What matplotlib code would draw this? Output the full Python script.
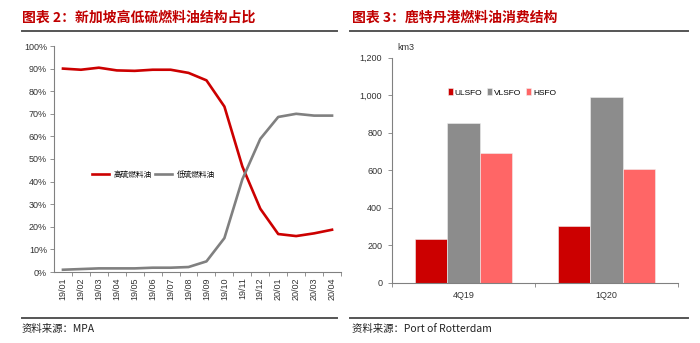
import matplotlib.pyplot as plt
from matplotlib.lines import Line2D
from matplotlib.ticker import FixedLocator, FuncFormatter

plt.rcParams["font.family"] = ["Liberation Sans", "Noto Sans CJK SC", "DejaVu Sans"]

# left chart: Singapore high/low sulphur bunker share
months = ["19/01", "19/02", "19/03", "19/04", "19/05", "19/06", "19/07", "19/08",
          "19/09", "19/10", "19/11", "19/12", "20/01", "20/02", "20/03", "20/04"]
hsfo_share = [90.0, 89.5, 90.4, 89.2, 89.0, 89.5, 89.5, 88.1,
              84.8, 73.2, 46.7, 28.0, 16.8, 15.9, 17.1, 18.7]
lsfo_share = [1.0, 1.3, 1.6, 1.6, 1.6, 1.9, 1.9, 2.2,
              4.7, 15.0, 41.0, 58.9, 68.6, 70.0, 69.2, 69.2]

# right chart: Rotterdam bunker sales
quarters = ["4Q19", "1Q20"]
ulsfo = [233, 305]
vlsfo = [854, 991]
hsfo = [691, 609]

W, H = 700, 343
RED = "#CC0000"
GREY = "#808080"
TITLE_RED = "#C00000"
CJK = ["Noto Sans CJK SC", "DejaVu Sans"]


def frac(x0, y_top, x1, y_bot):
    return [x0 / W, (H - y_bot) / H, (x1 - x0) / W, (y_bot - y_top) / H]


def style_axes(ax):
    for s in ("top", "right"):
        ax.spines[s].set_visible(False)
    for s in ("left", "bottom"):
        ax.spines[s].set_color("#808080")
        ax.spines[s].set_linewidth(0.8)
    ax.tick_params(axis="y", labelsize=6.5, length=3, width=0.6,
                   color="#808080", labelcolor="#333333", pad=2)


fig = plt.figure(figsize=(7, 3.43), dpi=100)

# titles, rules and sources
fig.text(22 / W, 1 - 18 / H, "图表 2：新加坡高低硫燃料油结构占比", color=TITLE_RED,
         fontsize=10, fontweight="bold", family=CJK, va="center", ha="left")
fig.text(352 / W, 1 - 18 / H, "图表 3：鹿特丹港燃料油消费结构", color=TITLE_RED,
         fontsize=10, fontweight="bold", family=CJK, va="center", ha="left")
for x0, x1 in ((22, 337), (350, 688)):
    fig.add_artist(Line2D([x0 / W, x1 / W], [1 - 31 / H] * 2, color="#555555", lw=1.4))
    fig.add_artist(Line2D([x0 / W, x1 / W], [1 - 318 / H] * 2, color="#555555", lw=1.4))
fig.text(22 / W, 1 - 329 / H, "资料来源：MPA", fontsize=7.5, family=CJK,
         color="#222222", va="center", ha="left")
fig.text(352 / W, 1 - 329 / H, "资料来源：Port of Rotterdam", fontsize=7.5, family=CJK,
         color="#222222", va="center", ha="left")

# left line chart
ax1 = fig.add_axes(frac(54, 46, 341, 272))
style_axes(ax1)
x = list(range(len(months)))
ax1.plot(x, hsfo_share, color=RED, lw=1.9, label="高硫燃料油")
ax1.plot(x, lsfo_share, color=GREY, lw=1.9, label="低硫燃料油")
ax1.set_xlim(-0.5, len(months) - 0.5)
ax1.set_ylim(0, 100)
ax1.set_yticks(range(0, 101, 10))
ax1.yaxis.set_major_formatter(FuncFormatter(lambda v, _: f"{v:.0f}%"))
ax1.set_xticks(x)
ax1.set_xticklabels(months, rotation=90, fontsize=6.5, color="#333333")
ax1.xaxis.set_minor_locator(FixedLocator([i + 0.5 for i in x]))
ax1.tick_params(axis="x", which="major", length=0, pad=4)
ax1.tick_params(axis="x", which="minor", length=3, width=0.6, color="#808080")
ax1.legend(loc="center left", bbox_to_anchor=(0.11, 0.43), ncol=2,
           frameon=False, handlelength=2.2, handletextpad=0.6,
           columnspacing=0.4, prop={"family": CJK, "size": 5.5})

# right bar chart
ax2 = fig.add_axes(frac(392, 57.7, 678, 283))
style_axes(ax2)
bw = 0.224
xq = list(range(len(quarters)))
ax2.bar([i - bw for i in xq], ulsfo, bw, color="#CC0000", edgecolor="#f0f0f0", lw=0.4, label="ULSFO")
ax2.bar(xq, vlsfo, bw, color="#8C8C8C", edgecolor="#f0f0f0", lw=0.4, label="VLSFO")
ax2.bar([i + bw for i in xq], hsfo, bw, color="#FF6666", edgecolor="#f0f0f0", lw=0.4, label="HSFO")
ax2.set_xlim(-0.5, len(quarters) - 0.5)
ax2.set_ylim(0, 1200)
ax2.set_yticks(range(0, 1201, 200))
ax2.yaxis.set_major_formatter(FuncFormatter(lambda v, _: f"{v:,.0f}"))
ax2.set_xticks(xq)
ax2.set_xticklabels(quarters, fontsize=6.5, color="#333333")
ax2.xaxis.set_minor_locator(FixedLocator([-0.5, 0.5, 1.5]))
ax2.tick_params(axis="x", which="major", length=0, pad=6)
ax2.tick_params(axis="x", which="minor", length=3, width=0.6, color="#808080")
ax2.tick_params(axis="y", pad=4)
ax2.text(397 / W, 1 - 48 / H, "km3", transform=fig.transFigure, fontsize=6.5,
         color="#333333", va="center", ha="left")
ax2.legend(loc="center left", bbox_to_anchor=(0.17, 0.845), ncol=3, frameon=False,
           fontsize=6, handlelength=0.6, handleheight=0.9, handletextpad=0.2,
           columnspacing=0.6)

fig.savefig("out.png", dpi=100)
